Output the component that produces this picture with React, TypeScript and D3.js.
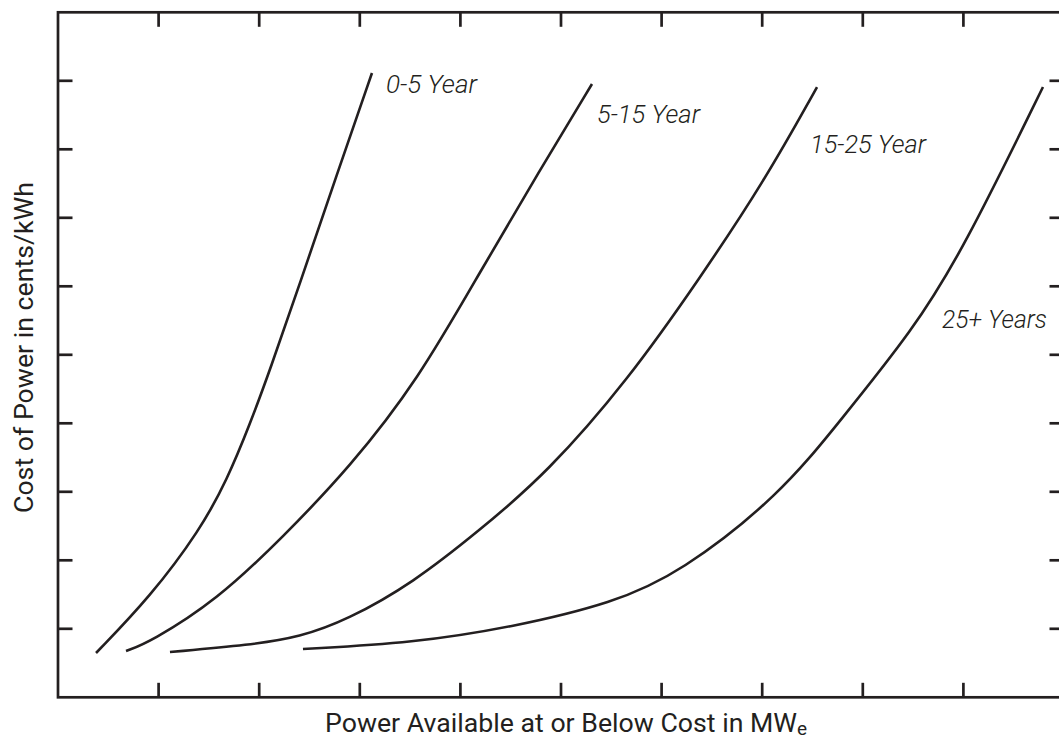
import React from "react";
import * as d3 from "d3";

// ---- data (axis units: 0..10 on both axes, unlabelled ticks) ----
const xTicks = [1, 2, 3, 4, 5, 6, 7, 8, 9];
const yTicks = [1, 2, 3, 4, 5, 6, 7, 8, 9];

const seriesNames = ["0-5 Year", "5-15 Year", "15-25 Year", "25+ Years"];

const y0_5X = [0.378, 0.915, 1.412, 1.68, 1.909, 2.107, 2.406, 2.753, 3.121];
const y0_5Y = [0.647, 1.464, 2.442, 3.172, 3.99, 4.778, 6.048, 7.552, 9.114];

const y5_15X = [0.676, 0.915, 1.581, 2.237, 2.903, 3.579, 4.195, 4.791, 5.308];
const y5_15Y = [0.676, 0.807, 1.42, 2.34, 3.362, 4.632, 6.209, 7.698, 8.953];

const y15_25X = [1.113, 1.909, 2.406, 2.873, 3.529, 4.195, 4.861, 5.666, 6.382, 7.028, 7.545];
const y15_25Y = [0.661, 0.764, 0.88, 1.128, 1.669, 2.442, 3.274, 4.632, 6.121, 7.552, 8.909];

const y25X = [2.435, 3.529, 4.523, 5.517, 6.183, 7.177, 7.773, 8.499, 8.996, 9.791];
const y25Y = [0.705, 0.793, 1.026, 1.377, 1.815, 2.953, 4.034, 5.362, 6.53, 8.909];

const seriesX = [y0_5X, y5_15X, y15_25X, y25X];
const seriesY = [y0_5Y, y5_15Y, y15_25Y, y25Y];

const xTitle = "Power Available at or Below Cost in MW";
const xTitleSub = "e";
const yTitle = "Cost of Power in cents/kWh";

// ---- layout ----
const W = 1059;
const H = 738;
const LEFT = 58;
const RIGHT = 1064;
const TOP = 12.3;
const BOTTOM = 697.3;
const TICK = 14.5;
const INK = "#231f20";

const labelLayout = [
  { x: 386, y: 92.7, w: 91 },
  { x: 597, y: 122.7, w: 103 },
  { x: 810, y: 152.7, w: 116 },
  { x: 942, y: 328.3, w: 105 },
];

export default function App() {
  const x = d3.scaleLinear().domain([0, 10]).range([LEFT, RIGHT]);
  const y = d3.scaleLinear().domain([0, 10]).range([BOTTOM, TOP]);

  const line = d3
    .line<[number, number]>()
    .x((d) => x(d[0]))
    .y((d) => y(d[1]))
    .curve(d3.curveBasis);

  const font = "Roboto, 'DejaVu Sans', sans-serif";

  return (
    <svg
      width={W}
      height={H}
      style={{ position: "absolute", left: 0, top: 0, background: "#fff" }}
    >
      {/* frame */}
      <rect
        x={LEFT}
        y={TOP}
        width={RIGHT - LEFT}
        height={BOTTOM - TOP}
        fill="none"
        stroke={INK}
        strokeWidth={2.7}
      />
      {/* ticks */}
      {xTicks.map((t) => (
        <g key={"xt" + t}>
          <line x1={x(t)} x2={x(t)} y1={TOP} y2={TOP + TICK} stroke={INK} strokeWidth={2.7} />
          <line x1={x(t)} x2={x(t)} y1={BOTTOM} y2={BOTTOM - TICK} stroke={INK} strokeWidth={2.7} />
        </g>
      ))}
      {yTicks.map((t) => (
        <g key={"yt" + t}>
          <line x1={LEFT} x2={LEFT + TICK} y1={y(t)} y2={y(t)} stroke={INK} strokeWidth={2.7} />
          <line x1={RIGHT} x2={RIGHT - TICK} y1={y(t)} y2={y(t)} stroke={INK} strokeWidth={2.7} />
        </g>
      ))}
      {/* curves */}
      {seriesX.map((xs, i) => {
        const pts: [number, number][] = xs.map((v, j) => [v, seriesY[i][j]]);
        return (
          <path
            key={"s" + i}
            d={line(pts) || ""}
            fill="none"
            stroke={INK}
            strokeWidth={2.6}
          />
        );
      })}
      {/* series labels */}
      {seriesNames.map((name, i) => (
        <text
          key={"l" + i}
          x={labelLayout[i].x}
          y={labelLayout[i].y}
          fontFamily={font}
          fontStyle="italic"
          fontWeight={300}
          fontSize={26}
          fill={INK}
          textLength={labelLayout[i].w}
          lengthAdjust="spacingAndGlyphs"
        >
          {name}
        </text>
      ))}
      {/* x title */}
      <text x={325} y={731.5} fontFamily={font} fontSize={26} fill={INK}>
        <tspan textLength={472} lengthAdjust="spacingAndGlyphs">{xTitle}</tspan>
        <tspan fontSize={19} dy={3}>{xTitleSub}</tspan>
      </text>
      {/* y title */}
      <text
        transform={`translate(33, 347.5) rotate(-90)`}
        textAnchor="middle"
        fontFamily={font}
        fontSize={26}
        fill={INK}
        textLength={331}
        lengthAdjust="spacingAndGlyphs"
      >
        {yTitle}
      </text>
    </svg>
  );
}
